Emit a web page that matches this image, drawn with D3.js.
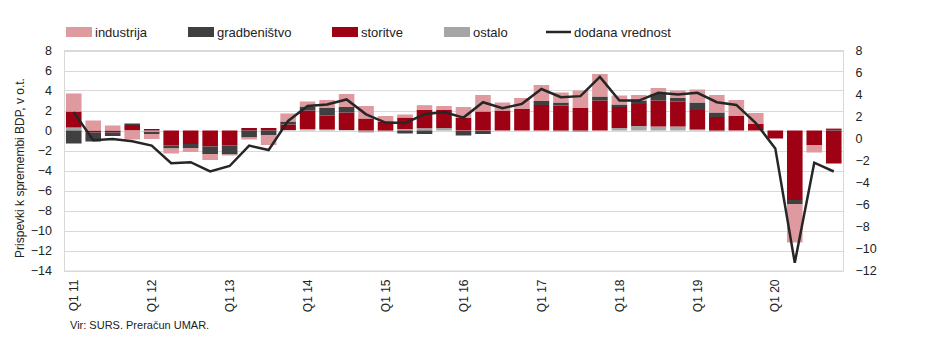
<!DOCTYPE html>
<html><head><meta charset="utf-8">
<script src="https://cdn.jsdelivr.net/npm/d3@7"></script>
<style>
html,body{margin:0;padding:0;background:#fff;}
svg{display:block;font-family:"Liberation Sans",Arial,sans-serif;}
</style></head>
<body><svg id="c" width="950" height="355"></svg>
<script>
const quarters = ["Q1 11","Q2 11","Q3 11","Q4 11","Q1 12","Q2 12","Q3 12","Q4 12","Q1 13","Q2 13","Q3 13","Q4 13",
"Q1 14","Q2 14","Q3 14","Q4 14","Q1 15","Q2 15","Q3 15","Q4 15","Q1 16","Q2 16","Q3 16","Q4 16",
"Q1 17","Q2 17","Q3 17","Q4 17","Q1 18","Q2 18","Q3 18","Q4 18","Q1 19","Q2 19","Q3 19","Q4 19",
"Q1 20","Q2 20","Q3 20","Q4 20"];
const industrija = [1.8,1.0,0.5,-0.9,-0.5,-0.5,-0.4,-0.6,-0.1,-0.2,-1.0,0.8,0.5,0.8,1.3,1.25,0.55,0.3,0.45,0.4,1.1,1.65,0.8,1.1,1.6,1.0,1.75,2.25,0.9,0.55,0.6,0.75,1.3,1.75,1.6,1.1,0,-3.85,-0.75,0.1];
const gradbenistvo = [-1.3,-0.9,-0.35,0.15,-0.2,-0.3,-0.4,-0.75,-0.9,-0.7,-0.45,0.3,0.4,0.75,0.55,0,0,-0.3,-0.35,0,-0.45,-0.3,0,0,0.4,0.3,0,0.4,0.25,0.35,0.65,0.35,0.75,0.45,0,0,0,-0.4,0,0.15];
const storitve = [1.6,-0.2,-0.2,0.55,0.15,-1.5,-1.35,-1.6,-1.5,0.25,0.25,0.55,1.85,1.4,1.75,1.2,0.9,1.15,1.85,1.8,1.25,1.9,2.0,2.15,2.55,2.5,2.25,3.0,2.1,2.2,2.6,2.5,1.95,1.35,1.45,0.65,-0.8,-6.95,-1.45,-3.3];
const ostalo = [0.3,0,0,0,-0.15,0,0,0,0,0,0,0.05,0.15,0.1,0.05,-0.2,-0.1,0.15,0.23,0.25,-0.05,-0.05,0,0,0,-0.1,-0.15,0,0.25,0.45,0.4,0.4,0.1,-0.1,0,0,0,0,0,0];
const dodanaVrednost = [2.4,-0.15,-0.05,-0.25,-0.65,-2.25,-2.15,-3.0,-2.5,-0.65,-1.05,1.6,2.95,3.1,3.55,2.2,1.45,1.4,2.2,2.4,1.9,3.3,2.75,3.15,4.5,3.75,3.85,5.6,3.45,3.45,4.15,4.0,4.15,3.3,3.05,1.4,-0.9,-11.3,-2.2,-3.0];
const leftTicks = [8,6,4,2,0,-2,-4,-6,-8,-10,-12,-14];
const rightTicks = [8,6,4,2,0,-2,-4,-6,-8,-10,-12];
const seriesNames = ["industrija","gradbeništvo","storitve","ostalo"];
const colors = {"industrija":"#de9a9e","gradbeništvo":"#404040","storitve":"#9e0014","ostalo":"#a6a6a6"};
const lineName = "dodana vrednost";

const rows = quarters.map((q,i)=>({q, "industrija":industrija[i], "gradbeništvo":gradbenistvo[i], "storitve":storitve[i], "ostalo":ostalo[i]}));

const svg = d3.select("#c");
const L=64, R=843.5, T=50.5, B=270.5;
const x = d3.scaleBand().domain(quarters).range([L,R]).paddingInner(0.2).paddingOuter(0.1);
const yL = d3.scaleLinear().domain([-14,8]).range([B,T]);
const yR = d3.scaleLinear().domain([-12,8]).range([B,T]);

// gridlines
svg.append("g").selectAll("line").data(leftTicks).join("line")
  .attr("x1",L).attr("x2",R).attr("y1",d=>Math.round(yL(d))+0.5).attr("y2",d=>Math.round(yL(d))+0.5)
  .attr("stroke","#d9d9d9").attr("stroke-width",1);
// frame
svg.append("rect").attr("x",L+0.5).attr("y",T).attr("width",R-L-0.5).attr("height",B-T+0.5)
  .attr("fill","none").attr("stroke","#d9d9d9");

// stacked bars
const stack = d3.stack().keys(["ostalo","storitve","gradbeništvo","industrija"]).offset(d3.stackOffsetDiverging);
const layers = stack(rows);
svg.append("g").selectAll("g").data(layers).join("g").attr("fill",d=>colors[d.key])
  .selectAll("rect").data(d=>d).join("rect")
  .attr("x",d=>x(d.data.q)).attr("width",x.bandwidth())
  .attr("y",d=>yL(Math.max(d[0],d[1]))).attr("height",d=>Math.abs(yL(d[0])-yL(d[1])));

// line
const line = d3.line().x((d,i)=>x(quarters[i])+x.bandwidth()/2).y(d=>yR(d));
svg.append("path").datum(dodanaVrednost).attr("d",line).attr("fill","none")
  .attr("stroke","#262626").attr("stroke-width",2.5).attr("stroke-linejoin","miter");

// left axis
const axL = d3.axisLeft(yL).tickValues(leftTicks).tickSize(0).tickPadding(12);
const gL = svg.append("g").attr("transform",`translate(${L},0)`).call(axL);
gL.select(".domain").remove();
gL.selectAll("text").attr("font-size",12.5).attr("fill","#222").attr("font-family","Liberation Sans, Arial, sans-serif");
// right axis
const axR = d3.axisRight(yR).tickValues(rightTicks).tickSize(0).tickPadding(12);
const gR = svg.append("g").attr("transform",`translate(${R},0)`).call(axR);
gR.select(".domain").remove();
gR.selectAll("text").attr("font-size",12.5).attr("fill","#222").attr("font-family","Liberation Sans, Arial, sans-serif");

// x axis labels (only Q1)
const axX = d3.axisBottom(x).tickValues(quarters.filter(q=>q.startsWith("Q1"))).tickSize(0).tickPadding(0);
const gX = svg.append("g").attr("transform",`translate(0,${B})`).call(axX);
gX.select(".domain").remove();
gX.selectAll("text").attr("font-size",12).attr("fill","#222").attr("font-family","Liberation Sans, Arial, sans-serif")
  .attr("transform","rotate(-90)").attr("text-anchor","end").attr("dy","0.35em")
  .attr("x",-9).attr("y",0);

// y title
svg.append("text").attr("transform",`translate(24,168) rotate(-90)`).attr("text-anchor","middle")
  .attr("font-size",12).attr("fill","#222").text("Prispevki k spremembi BDP, v o.t.");

// legend
const legX = [66,188,332,444];
const lg = svg.append("g");
seriesNames.forEach((n,i)=>{
  lg.append("rect").attr("x",legX[i]).attr("y",27).attr("width",26).attr("height",10).attr("fill",colors[n]);
  lg.append("text").attr("x",legX[i]+29).attr("y",32).attr("dy","0.35em").attr("font-size",13).attr("fill","#222").text(n);
});
lg.append("line").attr("x1",546).attr("x2",571).attr("y1",32).attr("y2",32).attr("stroke","#262626").attr("stroke-width",2.5);
lg.append("text").attr("x",574).attr("y",32).attr("dy","0.35em").attr("font-size",13).attr("fill","#222").text(lineName);

// source
svg.append("text").attr("x",70).attr("y",329).attr("font-size",11).attr("fill","#222").text("Vir: SURS. Preračun UMAR.");
</script></body></html>
